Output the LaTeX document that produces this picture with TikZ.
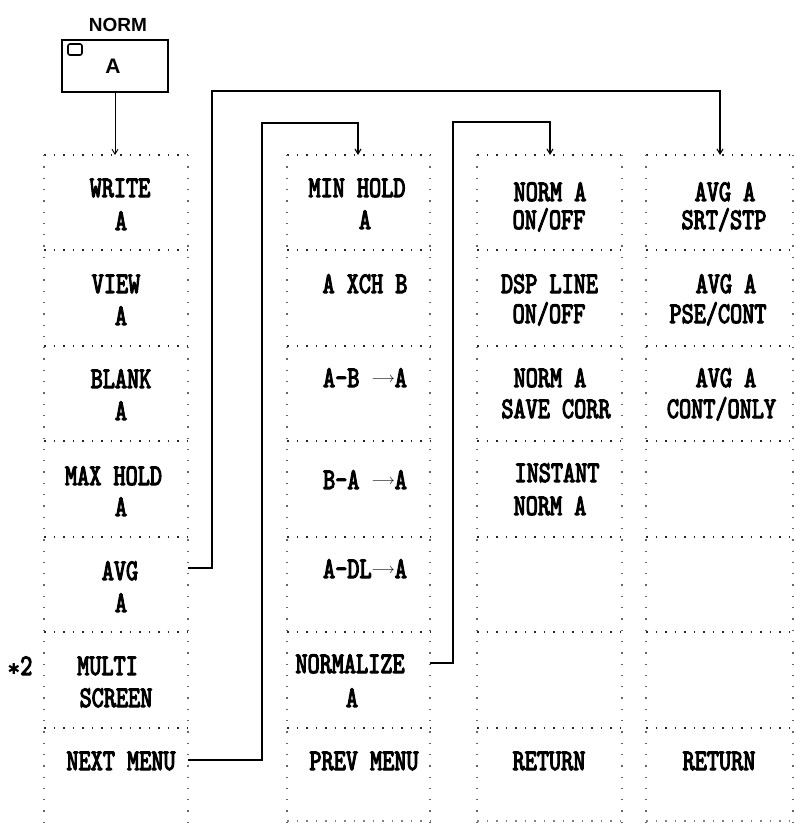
\documentclass[tikz,border=0pt]{standalone}
\usepackage{fontspec}
\usetikzlibrary{arrows.meta}
\newfontfamily\menufont{lmmono10-regular.otf}[FakeStretch=0.77,FakeBold=3.5]
\newfontfamily\keyfont{Liberation Sans}
\newfontfamily\symfont{DejaVu Sans}
\newcommand\marr{\mbox{\raisebox{5pt}{\fontsize{15}{15}\selectfont$\longrightarrow$}}}
\begin{document}
\begin{tikzpicture}[x=1pt,y=-1pt,
  txt/.style={font=\menufont\fontsize{30}{33}\selectfont, inner sep=0pt, anchor=base},
  hgrid/.style={line width=1.9pt, dash pattern=on 1.8pt off 7.7pt, black!85},
  vgrid/.style={line width=1.3pt, dash pattern=on 1.3pt off 10pt, black!60},
  conn/.style={line width=1.1pt},
  tip/.style={-{Straight Barb[length=5pt,width=6pt]}},
  keybox/.style={draw, line width=1.8pt, minimum width=106pt, minimum height=52pt, inner sep=0pt},
  keytxt/.style={inner sep=0pt}
]
\useasboundingbox (0,0) rectangle (795,823);

% dotted grids of the four menu columns
\foreach \l/\r in {44/188,287/430,477/622,646/793}{
  \foreach \yy in {155,250,346,441,537,632,728}
    \draw[hgrid] (\l,\yy) -- (\r,\yy);
  \draw[vgrid] (\l,155) -- (\l,823);
  \draw[vgrid] (\r,155) -- (\r,823);
}
\foreach \l/\r in {287/430,477/622,646/793}
  \draw[hgrid,black!50] (\l,821) -- (\r,821);

% key
\node[keytxt, font=\keyfont\bfseries\fontsize{19}{19}\selectfont] (normlbl) at (118,25) {NORM};
\node[keybox] (normbox) at (115,66) {};
\node[draw, line width=1.6pt, rounded corners=2pt, minimum width=14pt, minimum height=11pt, inner sep=0pt] (led) at (75,49.5) {};
\node[keytxt, font=\keyfont\bfseries\fontsize{21}{21}\selectfont] (keya) at (113,66.5) {A};

% column 1
\node[txt] (w1) at (120,197) {WRITE};
\node[txt] (w2) at (121,230) {A};
\node[txt] (v1) at (116,293) {VIEW};
\node[txt] (v2) at (121,325) {A};
\node[txt] (b1) at (121,388) {BLANK};
\node[txt] (b2) at (121,420) {A};
\node[txt] (m1) at (113.5,485) {MAX HOLD};
\node[txt] (m2) at (121,516) {A};
\node[txt] (a1) at (120,580) {AVG};
\node[txt] (a2) at (121,612) {A};
\node[txt] (s1) at (107.5,675) {MULTI};
\node[txt] (s2) at (116,707) {SCREEN};
\node[txt] (n1) at (121,770) {NEXT MENU};
\node[txt] (star) at (20,675) {{\symfont\fontsize{15}{15}\selectfont\raisebox{1pt}{✱}}2};

% column 2
\node[txt] (h1) at (357,197) {MIN HOLD};
\node[txt] (h2) at (365,229) {A};
\node[txt] (x1) at (365,293) {A XCH B};
\node[txt] (ab) at (365,387) {A-B \marr A};
\node[txt] (ba) at (365,489) {B-A \marr A};
\node[txt] (dl) at (365,578) {A-DL\marr A};
\node[txt] (z1) at (350,673) {NORMALIZE};
\node[txt] (z2) at (352,707) {A};
\node[txt] (p1) at (364,770) {PREV MENU};

% column 3
\node[txt] (r1) at (550,201) {NORM A};
\node[txt] (r2) at (549,229) {ON/OFF};
\node[txt] (d1) at (549.5,293) {DSP LINE};
\node[txt] (d2) at (549,323) {ON/OFF};
\node[txt] (c1) at (550,387) {NORM A};
\node[txt] (c2) at (556,418) {SAVE CORR};
\node[txt] (i1) at (557,482) {INSTANT};
\node[txt] (i2) at (550,515) {NORM A};
\node[txt] (t3) at (549,770) {RETURN};

% column 4
\node[txt] (g1) at (725,201) {AVG A};
\node[txt] (g2) at (724,229) {SRT/STP};
\node[txt] (e1) at (726,293) {AVG A};
\node[txt] (e2) at (718,323) {PSE/CONT};
\node[txt] (o1) at (726,387) {AVG A};
\node[txt] (o2) at (721.5,418) {CONT/ONLY};
\node[txt] (t4) at (719,770) {RETURN};

% connector end points on the column edges
\coordinate (c1top) at (115,155);
\coordinate (c2top) at (358,155);
\coordinate (c3top) at (550,155);
\coordinate (c4top) at (720,155);
\coordinate (avgout) at (188,568);
\coordinate (nextout) at (188,760);
\coordinate (normout) at (430,663);

% connectors
\draw[conn,line width=0.9pt,tip] (normbox.south) -- (c1top);
\draw[conn,tip] (avgout) -| (212,91) -| (c4top);
\draw[conn,tip] (nextout) -| (262,123) -| (c2top);
\draw[conn,tip] (normout) -| (453,122) -| (c3top);
\end{tikzpicture}
\end{document}
